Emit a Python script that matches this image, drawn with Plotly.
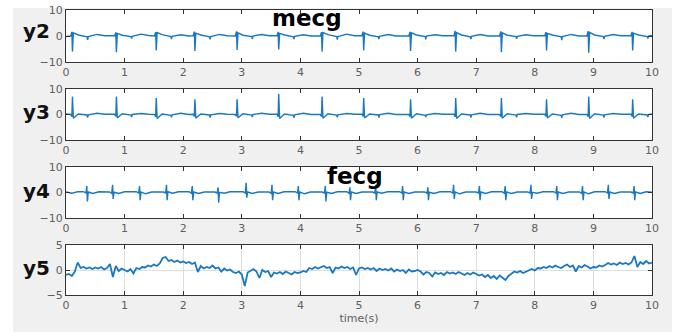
import plotly.graph_objects as go
from plotly.subplots import make_subplots

# ---------------- data ----------------
# y2 : maternal ECG (mecg), downward R spikes
y2_t = [0.00, 0.05,
        0.08, 0.10, 0.11, 0.125, 0.21, 0.36, 0.37, 0.38, 0.53, 0.66,
        0.83, 0.85, 0.86, 0.875, 0.96, 1.11, 1.12, 1.13, 1.28, 1.41,
        1.51, 1.53, 1.54, 1.555, 1.64, 1.79, 1.80, 1.81, 1.96, 2.09,
        2.17, 2.19, 2.20, 2.215, 2.30, 2.45, 2.46, 2.47, 2.62, 2.75,
        2.89, 2.91, 2.92, 2.935, 3.02, 3.17, 3.18, 3.19, 3.34, 3.47,
        3.60, 3.62, 3.63, 3.645, 3.73, 3.88, 3.89, 3.90, 4.05, 4.18,
        4.34, 4.36, 4.37, 4.385, 4.47, 4.62, 4.63, 4.64, 4.79, 4.92,
        5.05, 5.07, 5.08, 5.095, 5.18, 5.33, 5.34, 5.35, 5.50, 5.63,
        5.85, 5.87, 5.88, 5.895, 5.98, 6.13, 6.14, 6.15, 6.30, 6.43,
        6.62, 6.64, 6.65, 6.665, 6.75, 6.90, 6.91, 6.92, 7.07, 7.20,
        7.40, 7.42, 7.43, 7.445, 7.53, 7.68, 7.69, 7.70, 7.85, 7.98,
        8.17, 8.19, 8.20, 8.215, 8.30, 8.45, 8.46, 8.47, 8.62, 8.75,
        8.89, 8.91, 8.92, 8.935, 9.02, 9.17, 9.18, 9.19, 9.34, 9.47,
        9.64, 9.66, 9.67, 9.685, 9.77, 9.92, 9.93, 9.94, 10.00]
y2_v = [-0.2, 0.0,
        0.0, 1.6, -6.0, 1.2, 0.4, -0.3, -1.5, -0.2, 0.6, 0.1,
        0.1, 1.4, -6.2, 1.0, 0.3, -0.2, -1.0, -0.1, 0.7, 0.2,
        0.0, 1.5, -5.6, 1.3, 0.5, -0.2, -1.2, -0.1, 0.5, 0.0,
        0.1, 1.7, -5.8, 1.1, 0.4, -0.3, -1.3, -0.2, 0.6, 0.1,
        0.0, 1.8, -5.4, 1.2, 0.3, -0.2, -1.1, 0.0, 0.6, 0.1,
        0.1, 1.6, -5.2, 1.0, 0.4, -0.3, -1.2, -0.1, 0.5, 0.0,
        0.0, 1.5, -6.0, 1.3, 0.5, -0.2, -1.4, -0.2, 0.7, 0.1,
        0.1, 1.7, -5.6, 1.1, 0.3, -0.3, -1.2, -0.1, 0.6, 0.0,
        0.0, 1.6, -5.8, 1.2, 0.4, -0.2, -1.3, 0.0, 0.5, 0.1,
        0.1, 2.0, -6.0, 1.3, 0.4, -0.3, -1.2, -0.1, 0.6, 0.0,
        0.0, 1.8, -6.2, 1.2, 0.3, -0.2, -1.1, -0.1, 0.5, 0.1,
        0.1, 1.5, -5.6, 1.0, 0.4, -0.3, -1.6, -0.2, 0.6, 0.0,
        0.0, 1.9, -6.4, 1.4, 0.4, -0.2, -1.2, -0.1, 0.6, 0.1,
        0.1, 1.6, -5.6, 1.1, 0.4, -0.2, -1.0, 0.0, 0.2]

# y3 : maternal ECG, upward R spikes (same beat times)
y3_t = y2_t
y3_v = [0.2, 0.0,
        0.0, -0.8, 7.0, -1.5, 0.2, -0.2, -1.2, -0.1, 0.5, 0.1,
        0.1, -0.7, 7.0, -1.4, 0.3, -0.2, -1.0, 0.0, 0.4, 0.1,
        0.0, -0.9, 6.5, -1.6, 0.2, -0.3, -1.1, -0.1, 0.5, 0.0,
        0.1, -0.8, 6.0, -1.5, 0.2, -0.2, -1.2, -0.1, 0.4, 0.1,
        0.0, -0.7, 6.0, -1.3, 0.3, -0.2, -1.0, 0.0, 0.5, 0.1,
        0.1, -0.9, 8.0, -1.6, 0.2, -0.3, -1.3, -0.1, 0.5, 0.0,
        0.0, -0.8, 7.0, -1.5, 0.3, -0.2, -1.1, -0.1, 0.4, 0.1,
        0.1, -0.7, 6.5, -1.4, 0.2, -0.2, -1.2, 0.0, 0.5, 0.0,
        0.0, -0.8, 6.0, -1.5, 0.3, -0.3, -1.0, -0.1, 0.4, 0.1,
        0.1, -0.9, 6.5, -1.6, 0.2, -0.2, -1.2, -0.1, 0.5, 0.0,
        0.0, -0.8, 6.5, -1.5, 0.3, -0.2, -1.1, 0.0, 0.4, 0.1,
        0.1, -0.7, 6.0, -1.4, 0.2, -0.3, -1.3, -0.1, 0.5, 0.0,
        0.0, -0.8, 7.0, -1.6, 0.3, -0.2, -1.2, -0.1, 0.4, 0.1,
        0.1, -0.8, 6.0, -1.5, 0.2, -0.2, -1.0, 0.0, 0.2]

# y4 : fetal ECG (fecg), biphasic spikes
y4_t = [0.00, 0.10, 0.20,
        0.30, 0.34, 0.355, 0.365, 0.38, 0.46, 0.56,
        0.74, 0.78, 0.795, 0.805, 0.82, 0.90, 1.00,
        1.20, 1.24, 1.255, 1.265, 1.28, 1.36, 1.46,
        1.66, 1.70, 1.715, 1.725, 1.74, 1.82, 1.92,
        2.10, 2.14, 2.155, 2.165, 2.18, 2.26, 2.36,
        2.54, 2.58, 2.595, 2.605, 2.62, 2.70, 2.80,
        3.02, 3.06, 3.075, 3.085, 3.10, 3.18, 3.28,
        3.46, 3.50, 3.515, 3.525, 3.54, 3.62, 3.72,
        3.91, 3.95, 3.965, 3.975, 3.99, 4.07, 4.17,
        4.37, 4.41, 4.425, 4.435, 4.45, 4.53, 4.63,
        4.79, 4.83, 4.845, 4.855, 4.87, 4.95, 5.05,
        5.23, 5.27, 5.285, 5.295, 5.31, 5.39, 5.49,
        5.69, 5.73, 5.745, 5.755, 5.77, 5.85, 5.95,
        6.12, 6.16, 6.175, 6.185, 6.20, 6.28, 6.38,
        6.56, 6.60, 6.615, 6.625, 6.64, 6.72, 6.82,
        7.00, 7.04, 7.055, 7.065, 7.08, 7.16, 7.26,
        7.44, 7.48, 7.495, 7.505, 7.52, 7.60, 7.70,
        7.88, 7.92, 7.935, 7.945, 7.96, 8.04, 8.14,
        8.32, 8.36, 8.375, 8.385, 8.40, 8.48, 8.58,
        8.76, 8.80, 8.815, 8.825, 8.84, 8.92, 9.02,
        9.20, 9.24, 9.255, 9.265, 9.28, 9.36, 9.46,
        9.64, 9.68, 9.695, 9.705, 9.72, 9.80, 9.90,
        10.00]
y4_v = [0.2, -0.3, 0.3,
        0.3, -0.2, 2.5, -3.5, 0.2, -0.4, 0.3,
        0.2, -0.3, 3.0, -2.5, 0.1, -0.4, 0.3,
        0.3, -0.2, 2.5, -3.0, 0.2, -0.5, 0.2,
        0.2, -0.2, 3.0, -3.0, 0.3, -0.3, 0.3,
        0.3, -0.3, 2.5, -3.0, 0.2, -0.4, 0.2,
        0.2, -0.2, 2.0, -4.0, 0.1, -0.3, 0.3,
        0.3, -0.2, 3.8, -2.0, 0.2, -0.4, 0.2,
        0.2, -0.3, 3.0, -3.0, 0.2, -0.4, 0.3,
        0.3, -0.2, 2.5, -3.0, 0.2, -0.5, 0.2,
        0.2, -0.2, 2.5, -3.5, 0.1, -0.4, 0.3,
        0.3, -0.3, 2.0, -3.0, 0.2, -0.4, 0.2,
        0.2, -0.2, 3.0, -3.0, 0.2, -0.3, 0.3,
        0.3, -0.2, 2.5, -3.0, 0.2, -0.4, 0.2,
        0.2, -0.3, 2.0, -3.0, 0.1, -0.4, 0.3,
        0.3, -0.2, 3.0, -2.5, 0.2, -0.5, 0.2,
        0.2, -0.2, 2.5, -3.0, 0.2, -0.4, 0.3,
        0.3, -0.3, 2.5, -3.0, 0.2, -0.4, 0.2,
        0.2, -0.2, 3.0, -2.5, 0.1, -0.3, 0.3,
        0.3, -0.2, 2.5, -3.0, 0.2, -0.4, 0.2,
        0.2, -0.3, 2.5, -3.0, 0.2, -0.5, 0.3,
        0.3, -0.2, 3.0, -2.5, 0.2, -0.4, 0.2,
        0.2, -0.2, 2.5, -3.0, 0.2, -0.4, 0.3,
        0.1]

# y5 : noisy residual, sampled every 0.05 s from t = 0
y5_start = 0.0
y5_step = 0.05
y5_v = [-1.0, -0.8, -1.2, -0.3, 1.5, 0.4, 0.6, 0.3, 0.5, 0.2,
        0.5, 0.3, 0.6, 0.1, 0.4, 1.2, -1.4, 0.8, -0.2, 0.3,
        0.0, -0.3, 0.2, -0.7, 0.4, 0.2, 0.6, 0.5, 0.9, 0.7,
        1.1, 0.8, 1.3, 2.4, 2.6, 1.8, 2.0, 1.6, 1.9, 1.5,
        1.7, 1.4, 1.6, 1.2, 1.5, -0.4, 0.8, 0.3, 0.6, 0.4,
        0.9, 0.3, 0.5, -0.3, 0.3, -0.1, 0.1, -0.4, -0.6, -0.3,
        -0.9, -3.2, -0.5, -0.2, 0.2, -0.3, -1.6, 0.0, -0.4, -0.2,
        -1.4, -0.5, -0.7, -0.4, -0.8, -0.3, -0.6, -0.9, -0.4, -0.6,
        -0.5, -0.2, -0.4, 0.4, 0.2, 0.6, 0.3, 0.5, 0.8, 0.4,
        0.6, -0.6, 0.5, 0.3, 0.7, 0.4, 0.6, 0.2, 0.5, -1.0,
        0.3, 0.5, 0.2, 0.4, 0.1, 0.4, -0.2, 0.3, 0.0, 0.2,
        -0.1, 0.3, -0.3, 0.1, -0.2, 0.0, -0.6, 0.1, -0.3, -0.2,
        0.0, -0.3, -0.9, -0.4, -0.6, -1.3, -0.5, -0.8, -0.6, -1.0,
        -0.4, -0.7, -0.5, -0.8, -0.4, -0.7, -1.0, -0.6, -0.9, -0.5,
        -0.8, -1.1, -0.9, -1.4, -1.0, -1.6, -1.2, -1.8, -1.1, -1.5,
        -2.0, -1.2, -0.7, -0.3, -0.5, -0.2, -0.6, -0.3, 0.0, 0.2,
        -0.1, 0.4, 0.3, 0.6, 0.4, 0.8, 0.5, 0.9, 0.6, 0.4,
        0.8, 1.1, 0.6, 0.9, -0.3, 0.8, 0.5, 1.0, 0.7, 0.3,
        0.6, 0.5, 0.9, 0.7, 1.0, 1.4, 1.1, 1.3, 1.0, 1.5,
        1.2, 1.4, 1.1, 1.5, 2.8, 0.6, 1.6, 1.2, 1.8, 1.3,
        1.5]

panel_labels = ["y2", "y3", "y4", "y5"]
panel_titles = {0: "mecg", 2: "fecg"}
x_ticks = [0, 1, 2, 3, 4, 5, 6, 7, 8, 9, 10]
y_ticks_ecg = [-10, 0, 10]
y_ticks_res = [-5, 0, 5]
x_title = "time(s)"

# ---------------- figure ----------------
LINE = "#1a78c2"
W, H = 682, 336
L, R, T, B = 66, 30, 10, 41
PW, PH = W - L - R, H - T - B

def py(pix):  # pixel row -> paper y
    return (H - B - pix) / PH

def px(pix):  # pixel col -> paper x
    return (pix - L) / PW

domains = [(py(62), py(10)), (py(140), py(89)), (py(218), py(167)), (py(295), py(245))]

fig = make_subplots(rows=4, cols=1)

fig.add_trace(go.Scatter(x=y2_t, y=y2_v, mode="lines", line=dict(color=LINE, width=1.4)), row=1, col=1)
fig.add_trace(go.Scatter(x=y3_t, y=y3_v, mode="lines", line=dict(color=LINE, width=1.4)), row=2, col=1)
fig.add_trace(go.Scatter(x=y4_t, y=y4_v, mode="lines", line=dict(color=LINE, width=1.4)), row=3, col=1)
fig.add_trace(go.Scatter(x0=y5_start, dx=y5_step, y=y5_v, mode="lines", line=dict(color=LINE, width=1.8)), row=4, col=1)

tickfont = dict(family="DejaVu Sans", size=11, color="#606060")
for i in range(4):
    last = i == 3
    fig.update_xaxes(row=i + 1, col=1, range=[0, 10], tickvals=x_ticks, ticktext=[str(v) for v in x_ticks],
                     ticks="inside", ticklen=4, tickcolor="#333333", showline=True, linecolor="#333333",
                     linewidth=1, mirror="ticks", showgrid=last, gridcolor="#dedede", gridwidth=1,
                     zeroline=False, tickfont=tickfont, fixedrange=True, automargin=False)
    fig.update_yaxes(row=i + 1, col=1, range=[-5, 5] if last else [-10, 10],
                     tickvals=y_ticks_res if last else y_ticks_ecg,
                     ticks="inside", ticklen=4, tickcolor="#333333", showline=True, linecolor="#333333",
                     linewidth=1, mirror="ticks", showgrid=last, gridcolor="#dedede", gridwidth=1,
                     zeroline=False, tickfont=tickfont, domain=list(domains[i]), automargin=False,
                     fixedrange=True)

fig.update_xaxes(row=4, col=1, title=dict(text=x_title, font=dict(family="DejaVu Sans", size=11, color="#606060"),
                                          standoff=2))

annotations = []
label_rows = [31, 112, 191, 268]
for i, lab in enumerate(panel_labels):
    annotations.append(dict(text=lab, x=px(36), y=py(label_rows[i]), xref="paper", yref="paper",
                            showarrow=False, xanchor="center", yanchor="middle",
                            font=dict(family="DejaVu Sans", size=20, color="#111111", weight="bold")))
title_pos = {0: (307, 18), 2: (355, 176)}
for i, txt in panel_titles.items():
    cx, cy = title_pos[i]
    annotations.append(dict(text=txt, x=px(cx), y=py(cy), xref="paper", yref="paper",
                            showarrow=False, xanchor="center", yanchor="middle",
                            font=dict(family="DejaVu Sans", size=23, color="#000000", weight="bold")))

# white frame around grey figure background
white_strips = [
    (px(0), px(W), py(0), py(8)),
    (px(0), px(13), py(0), py(H)),
    (px(672), px(W), py(0), py(H)),
    (px(0), px(W), py(332), py(H)),
]
shapes = [dict(type="rect", xref="paper", yref="paper", x0=a, x1=b, y0=min(c, d), y1=max(c, d),
               fillcolor="white", line=dict(width=0), layer="below") for a, b, c, d in white_strips]

fig.update_layout(width=W, height=H, margin=dict(l=L, r=R, t=T, b=B),
                  paper_bgcolor="#f0f0f0", plot_bgcolor="white", showlegend=False,
                  hovermode=False, annotations=annotations, shapes=shapes)

fig.write_html("out.html", config={"displayModeBar": False, "staticPlot": True},
               post_script="document.body.style.margin='0';document.body.style.overflow='hidden';")
